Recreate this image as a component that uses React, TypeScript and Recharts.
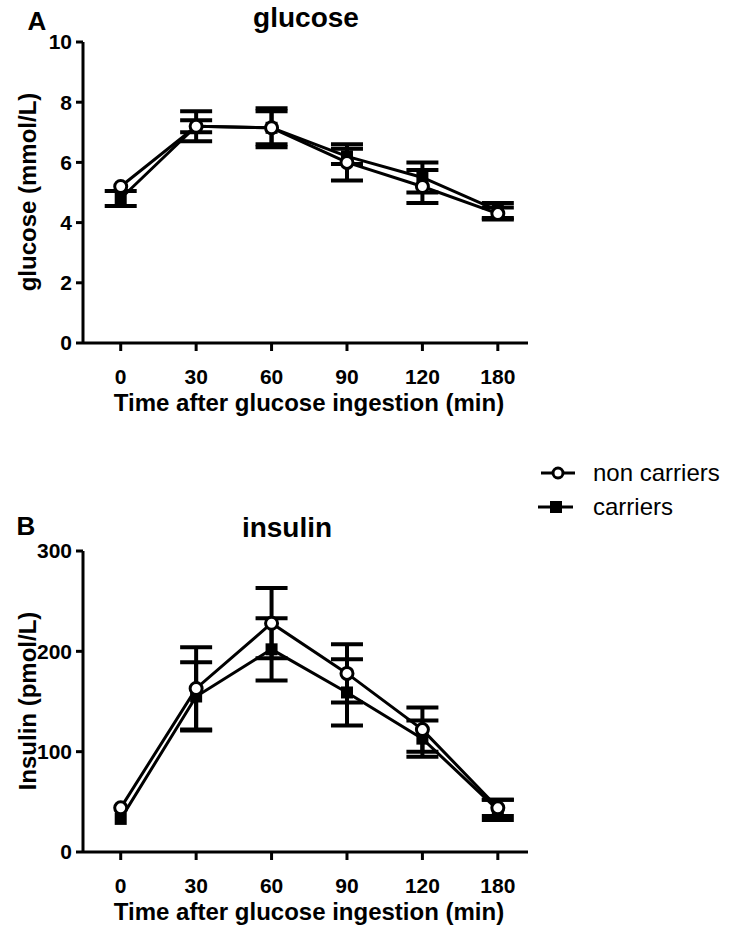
import React from "react";
import { LineChart, Line, XAxis, YAxis, ErrorBar } from "recharts";

const times = ["0", "30", "60", "90", "120", "180"];

// null = error too small to show past the marker
const glucoseNonCarriers = [5.2, 7.2, 7.15, 6.0, 5.2, 4.3];
const glucoseNonCarriersErr = [null, 0.5, 0.65, 0.6, 0.55, 0.2];
const glucoseCarriers = [4.8, 7.2, 7.15, 6.2, 5.5, 4.4];
const glucoseCarriersErr = [0.25, 0.2, 0.55, 0.25, 0.5, 0.25];

const insulinNonCarriers = [44, 163, 228, 178, 122, 44];
const insulinNonCarriersErr = [null, 41, 35, 29, 22, 8];
const insulinCarriers = [33, 155, 202, 159, 113, 42];
const insulinCarriersErr = [null, 34, 31, 33, 18, 10];

const glucoseTicks = [0, 2, 4, 6, 8, 10];
const insulinTicks = [0, 100, 200, 300];

const FONT = "'Liberation Sans', Arial, sans-serif";

const buildRows = (nc: number[], ncErr: (number | null)[], c: number[], cErr: (number | null)[]) =>
  times.map((t, i) => ({ idx: i, time: t, nc: nc[i], ncErr: ncErr[i], c: c[i], cErr: cErr[i] }));

const glucoseData = buildRows(glucoseNonCarriers, glucoseNonCarriersErr, glucoseCarriers, glucoseCarriersErr);
const insulinData = buildRows(insulinNonCarriers, insulinNonCarriersErr, insulinCarriers, insulinCarriersErr);

const OpenCircle = (props: any) => {
  const { cx, cy, index } = props;
  return <circle key={`o-${index}`} cx={cx} cy={cy} r={6} fill="#fff" stroke="#000" strokeWidth={3} />;
};

const FilledSquare = (props: any) => {
  const { cx, cy, index } = props;
  return <rect key={`s-${index}`} x={cx - 6} y={cy - 6} width={12} height={12} fill="#000" />;
};

const tickStyle = { fill: "#000", fontSize: 21, fontWeight: "bold", fontFamily: FONT };
const axisStyle = { stroke: "#000", strokeWidth: 3 };

interface PanelProps {
  data: any[];
  domain: [number, number];
  ticks: number[];
  top: number;
}

// one panel; plot area runs from x=83 to 528, 42px below chart top, 88px above its bottom
const Panel = ({ data, domain, ticks, top }: PanelProps) => (
  <div style={{ position: "absolute", left: 0, top }}>
    <LineChart width={734} height={431} data={data} margin={{ top: 42, right: 206, bottom: 48, left: 23 }}>
      <XAxis
        dataKey="idx"
        type="number"
        domain={[-0.5, 5.4]}
        ticks={[0, 1, 2, 3, 4, 5]}
        tickFormatter={(v: number) => times[v]}
        height={40}
        tick={tickStyle}
        tickSize={8}
        tickMargin={18}
        axisLine={axisStyle}
        tickLine={axisStyle}
      />
      <YAxis
        type="number"
        domain={domain}
        ticks={ticks}
        width={60}
        tick={tickStyle}
        tickSize={7}
        tickMargin={4}
        axisLine={axisStyle}
        tickLine={axisStyle}
        interval={0}
      />
      <Line
        dataKey="c"
        type="linear"
        stroke="#000"
        strokeWidth={3}
        dot={FilledSquare}
        activeDot={false}
        isAnimationActive={false}
      >
        <ErrorBar dataKey="cErr" width={16} stroke="#000" strokeWidth={4} direction="y" isAnimationActive={false} />
      </Line>
      <Line
        dataKey="nc"
        type="linear"
        stroke="#000"
        strokeWidth={3}
        dot={OpenCircle}
        activeDot={false}
        isAnimationActive={false}
      >
        <ErrorBar dataKey="ncErr" width={16} stroke="#000" strokeWidth={4} direction="y" isAnimationActive={false} />
      </Line>
    </LineChart>
  </div>
);

const bold = { fontFamily: FONT, fontWeight: "bold", fill: "#000" };

export default function App() {
  return (
    <div style={{ position: "absolute", left: 0, top: 0, width: 734, height: 931, background: "#fff" }}>
      <Panel data={glucoseData} domain={[0, 10]} ticks={glucoseTicks} top={0} />
      <Panel data={insulinData} domain={[0, 300]} ticks={insulinTicks} top={509} />
      <svg width={734} height={931} style={{ position: "absolute", left: 0, top: 0, pointerEvents: "none" }}>
        <text x={37} y={30} fontSize={26} textAnchor="middle" {...bold}>A</text>
        <text x={306} y={27} fontSize={28} textAnchor="middle" {...bold}>glucose</text>
        <text x={36} y={192} fontSize={24} textAnchor="middle" transform="rotate(-90 36 192)" {...bold}>
          glucose (mmol/L)
        </text>
        <text x={309} y={411} fontSize={24} textAnchor="middle" {...bold}>Time after glucose ingestion (min)</text>

        <text x={26} y={535} fontSize={26} textAnchor="middle" {...bold}>B</text>
        <text x={287} y={537} fontSize={28} textAnchor="middle" {...bold}>insulin</text>
        <text x={36} y={701} fontSize={24} textAnchor="middle" transform="rotate(-90 36 701)" {...bold}>
          Insulin (pmol/L)
        </text>
        <text x={309} y={920} fontSize={24} textAnchor="middle" {...bold}>Time after glucose ingestion (min)</text>

        <line x1={541} y1={473} x2={575} y2={473} stroke="#000" strokeWidth={3} />
        <circle cx={558} cy={473} r={5} fill="#fff" stroke="#000" strokeWidth={3} />
        <text x={593} y={481} fontSize={24} fontFamily={FONT} fill="#000">non carriers</text>
        <line x1={538} y1={507} x2={573} y2={507} stroke="#000" strokeWidth={3} />
        <rect x={550} y={501} width={12} height={12} fill="#000" />
        <text x={593} y={515} fontSize={24} fontFamily={FONT} fill="#000">carriers</text>
      </svg>
    </div>
  );
}
